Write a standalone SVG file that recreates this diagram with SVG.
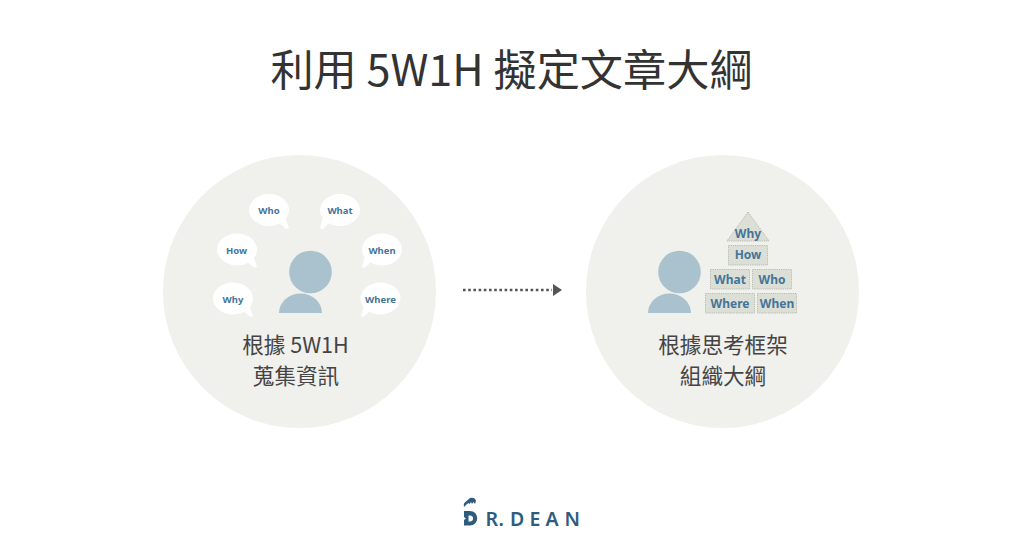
<svg xmlns="http://www.w3.org/2000/svg" width="1024" height="555" viewBox="0 0 1024 555">
<style>
.cjk{font-family:"Noto Sans CJK TC","Noto Sans",sans-serif;fill:#333;text-anchor:middle}
.sub{font-size:21.600px;fill:#444}
.lb{font-family:"Noto Sans","Open Sans",sans-serif;font-weight:700;fill:#457499;text-anchor:middle}
.s{font-size:9.500px}
.m{font-size:12px}
.b{fill:#fff}
.p{fill:#aac2cd}
.box{fill:#dcdfd6;stroke:#a9aea6;stroke-width:.8;stroke-dasharray:1.200 1}
.logo{font-family:"Noto Sans","Open Sans",sans-serif;font-weight:600;font-size:19.500px;fill:#2e5c7f}
</style>
<rect width="1024" height="555" fill="#fff"/>
<text id="title" class="cjk" x="511.500" y="86" font-size="43.200">利用 5W1H 擬定文章大綱</text>
<g id="left">
<circle cx="299.500" cy="291.500" r="136.500" fill="#f0f0ed"/>
<g id="person-left"><circle class="p" cx="310.500" cy="272" r="21.300"/><path class="p" d="M279 313a21.500 19.500 0 0 1 43 0z"/></g>
<g id="who"><ellipse class="b" cx="269" cy="210" rx="20" ry="16"/><path class="b" d="M278 222l6-8 5 14q-1 1-3 1z"/><text class="lb s" x="269" y="214">Who</text></g>
<g id="what"><ellipse class="b" cx="340" cy="210" rx="20" ry="16"/><path class="b" d="M330 222l-6-8-4 14q0 1 3 1z"/><text class="lb s" x="340" y="214">What</text></g>
<g id="how"><ellipse class="b" cx="237" cy="249.500" rx="20" ry="16"/><path class="b" d="M246 261l6-8 5 14q-1 1-3 .500z"/><text class="lb s" x="236.500" y="253.500">How</text></g>
<g id="when"><ellipse class="b" cx="382" cy="249.500" rx="20" ry="16"/><path class="b" d="M372 261l-6-8-4 14q0 1 3 .500z"/><text class="lb s" x="382" y="253.500">When</text></g>
<g id="why"><ellipse class="b" cx="233" cy="298.500" rx="20" ry="16"/><path class="b" d="M242 310l6-8 5 14q-1 1-3 .500z"/><text class="lb s" x="233" y="302.500">Why</text></g>
<g id="where"><ellipse class="b" cx="380.500" cy="298.500" rx="20" ry="16"/><path class="b" d="M371 310l-6-8-4 14q0 1 3 .500z"/><text class="lb s" x="380.500" y="302.500">Where</text></g>
<text class="cjk sub" x="295.500" y="353">根據 5W1H</text>
<text class="cjk sub" x="296" y="384">蒐集資訊</text>
</g>
<g id="connectors">
<path d="M463 290H552" fill="none" stroke="#555" stroke-width="2.600" stroke-dasharray="2.600 2.600"/>
<path d="M553 284l9 6-9 6z" fill="#555"/>
</g>
<g id="right">
<circle cx="722.500" cy="291.500" r="136.500" fill="#f0f0ed"/>
<g id="person-right"><circle class="p" cx="679.500" cy="272" r="21.300"/><path class="p" d="M648 313a21.500 19.500 0 0 1 43 0z"/></g>
<g id="p-why"><path class="box" d="M748 212l21 29h-42z"/><text class="lb m" x="748" y="238">Why</text></g>
<g id="p-how"><rect class="box" x="728.500" y="245.500" width="39" height="19.500"/><text class="lb m" x="748" y="259">How</text></g>
<g id="p-what"><rect class="box" x="710.500" y="269.500" width="39" height="19.500"/><text class="lb m" x="730" y="284">What</text></g>
<g id="p-who"><rect class="box" x="752.500" y="269.500" width="39" height="19.500"/><text class="lb m" x="772" y="284">Who</text></g>
<g id="p-where"><rect class="box" x="705.500" y="293.500" width="49" height="19.500"/><text class="lb m" x="730" y="308">Where</text></g>
<g id="p-when"><rect class="box" x="757.500" y="293.500" width="39" height="19.500"/><text class="lb m" x="777" y="308">When</text></g>
<text class="cjk sub" x="723" y="353">根據思考框架</text>
<text class="cjk sub" x="723" y="384">組織大綱</text>
</g>
<g id="logo">
<path fill-rule="evenodd" d="M464 511h6a7 7 0 0 1 0 14.500h-6v-5.500l2-1.500-2-1.500zM468.500 515.500v6h1.500a3 3 0 0 0 0-6z" fill="#2e5c7f"/>
<path d="M464 507q-1-4 2-5.500l4-3.500q5-1 6 3l-1 3-1.500-2-1.500 2-1-2-1.500 2-1-1-2 1.500z" fill="#2e5c7f"/>
<text class="logo" x="485.500" y="525.500">R</text>
<text class="logo" x="498.500" y="525.500">.</text>
<text class="logo" x="510" y="525.500">D</text>
<text class="logo" x="529.500" y="525.500">E</text>
<text class="logo" x="545.500" y="525.500">A</text>
<text class="logo" x="564.500" y="525.500">N</text>
</g>
</svg>
